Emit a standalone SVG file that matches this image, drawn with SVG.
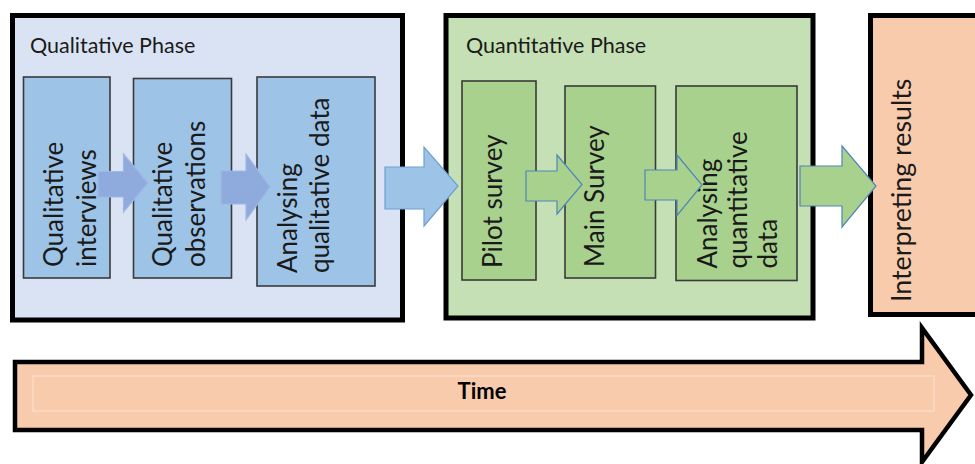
<svg xmlns="http://www.w3.org/2000/svg" width="975" height="464" viewBox="0 0 975 464">
  <style>
    .phase { stroke: #000; stroke-width: 5; }
    .qual-bg { fill: #dae3f3; }
    .quant-bg { fill: #c5e0b4; }
    .peach { fill: #f8cbad; }
    .step { stroke: #3a3a3a; stroke-width: 1.6; }
    .qual-step { fill: #9dc3e6; }
    .quant-step { fill: #a9d18e; }
    .title { font-family: Lato, "Liberation Sans", sans-serif; font-size: 21.5px; fill: #1a1a1a; }
    .label { font-family: Lato, "Liberation Sans", sans-serif; font-size: 26px; fill: #1a1a1a; }
    .label-lg { font-family: Lato, "Liberation Sans", sans-serif; font-size: 26.8px; fill: #1a1a1a; }
    .time { font-family: Lato, "Liberation Sans", sans-serif; font-size: 22px; font-weight: bold; fill: #000; }
    .arr-qual { fill: #8faadc; stroke: #9fb8e4; stroke-width: 1.2; }
    .arr-blue { fill: #9dc3e6; stroke: #6e9fd2; stroke-width: 1.2; }
    .arr-green { fill: #a9d18e; stroke: #4f86b8; stroke-width: 1.2; }
  </style>

  <!-- Qualitative phase container -->
  <g id="qualitative-phase">
    <rect class="phase qual-bg" x="12.5" y="15.5" width="390" height="304.5"/>
    <text class="title" x="30" y="53">Qualitative Phase</text>
  </g>

  <!-- Quantitative phase container -->
  <g id="quantitative-phase">
    <rect class="phase quant-bg" x="446" y="15.5" width="367" height="302.5"/>
    <text class="title" x="466" y="53">Quantitative Phase</text>
  </g>

  <!-- Interpreting results (runs off the right edge) -->
  <g id="interpreting-results">
    <rect class="phase peach" x="870.5" y="15.5" width="120" height="299"/>
    <text class="label-lg" transform="translate(911,302) rotate(-90)">Interpreting results</text>
  </g>

  <!-- Qualitative steps -->
  <g id="qualitative-interviews">
    <rect class="step qual-step" x="23.5" y="77" width="86.5" height="201"/>
    <text class="label" transform="translate(63,267) rotate(-90)">Qualitative</text>
    <text class="label" transform="translate(96,267) rotate(-90)">interviews</text>
  </g>
  <g id="qualitative-observations">
    <rect class="step qual-step" x="133.5" y="78.5" width="98" height="199.5"/>
    <text class="label" transform="translate(172,267) rotate(-90)">Qualitative</text>
    <text class="label" transform="translate(205,267) rotate(-90)">observations</text>
  </g>
  <g id="analysing-qualitative-data">
    <rect class="step qual-step" x="257" y="77" width="118" height="209"/>
    <text class="label" transform="translate(297,273) rotate(-90)">Analysing</text>
    <text class="label" transform="translate(329,273) rotate(-90)">qualitative data</text>
  </g>

  <!-- Quantitative steps -->
  <g id="pilot-survey">
    <rect class="step quant-step" x="462" y="81" width="74" height="199"/>
    <text class="label" transform="translate(502,268) rotate(-90)">Pilot survey</text>
  </g>
  <g id="main-survey">
    <rect class="step quant-step" x="565" y="86" width="90.5" height="192"/>
    <text class="label" transform="translate(603.5,267) rotate(-90)">Main Survey</text>
  </g>
  <g id="analysing-quantitative-data">
    <rect class="step quant-step" x="676" y="86" width="121" height="194.5"/>
    <text class="label" transform="translate(717,268.5) rotate(-90)">Analysing</text>
    <text class="label" transform="translate(747,268.5) rotate(-90)">quantitative</text>
    <text class="label" transform="translate(777,268.5) rotate(-90)">data</text>
  </g>

  <!-- Block arrows between steps and phases -->
  <g id="connectors">
    <polygon class="arr-qual" points="98,171.5 123.5,171.5 123.5,154 148,183 123.5,212 123.5,197 98,197"/>
    <polygon class="arr-qual" points="221,171 246,171 246,154 270,187 246,220 246,204 221,204"/>
    <polygon class="arr-blue" points="385,167 424,167 424,147 458,186 424,226 424,209 385,209"/>
    <polygon class="arr-green" points="526,171 557,171 557,155 582,184.5 557,214 557,201 526,201"/>
    <polygon class="arr-green" points="645,170 677,170 677,155 702,185 677,215.5 677,200 645,200"/>
    <polygon class="arr-green" points="800,166 842,166 842,146 876,186 842,227 842,206 800,206"/>
  </g>

  <!-- Time axis arrow -->
  <g id="time-axis">
    <polygon fill="#f8cbad" stroke="#000" stroke-width="4.5" stroke-linejoin="miter" points="15,362 922,362 922,328 971,395 922,462 922,430 15,430"/>
    <rect x="33" y="376" width="901" height="35" fill="none" stroke="#fbdcc6" stroke-width="1.5"/>
    <text class="time" x="482" y="399" text-anchor="middle">Time</text>
  </g>
</svg>
